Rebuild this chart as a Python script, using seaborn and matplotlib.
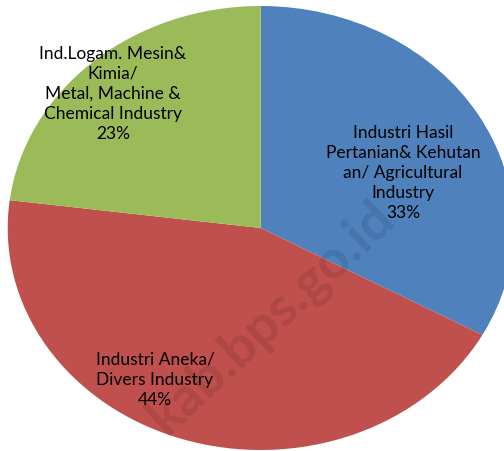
import matplotlib
matplotlib.use("Agg")
import matplotlib.pyplot as plt
import seaborn as sns

# data
sectors = [
    "Industri Hasil\nPertanian& Kehutan\nan/ Agricultural\nIndustry",
    "Industri Aneka/\nDivers Industry",
    "Ind.Logam. Mesin&\nKimia/\nMetal, Machine &\nChemical Industry",
]
shares = [33, 44, 23]
colors = ["#4F81BD", "#C0504D", "#9BBB59"]

# label spots inside the slices (data units, pie radius = 1)
label_pos = [(0.562, 0.252), (-0.418, -0.680), (-0.584, 0.608)]

sns.set_theme(style="white")
plt.rcParams["font.family"] = ["Lato", "DejaVu Sans"]

fig = plt.figure(figsize=(5.04, 4.52), dpi=100)
ax = fig.add_axes([7.7 / 504, 1 / 452, 506 / 504, 444 / 452])

labels = [f"{s}\n{v}%" for s, v in zip(sectors, shares)]
wedges, texts = ax.pie(
    shares,
    colors=sns.color_palette(colors),
    startangle=90,
    counterclock=False,
    labels=labels,
    wedgeprops=dict(linewidth=0),
    textprops=dict(fontsize=12.5, color="black", linespacing=1.32),
)
for t, p in zip(texts, label_pos):
    t.set_position(p)
    t.set_horizontalalignment("center")
    t.set_verticalalignment("center")
    t.set_multialignment("center")

ax.set_aspect("auto")
ax.set_xlim(-1, 1)
ax.set_ylim(-1, 1)
ax.axis("off")

# watermark
ax.text(0.04, -0.40, "kab.bps.go.id", fontsize=39, fontweight="bold",
        color="black", alpha=0.1, rotation=43, ha="center", va="center",
        rotation_mode="anchor", zorder=5)

fig.savefig("out.png", dpi=100)
